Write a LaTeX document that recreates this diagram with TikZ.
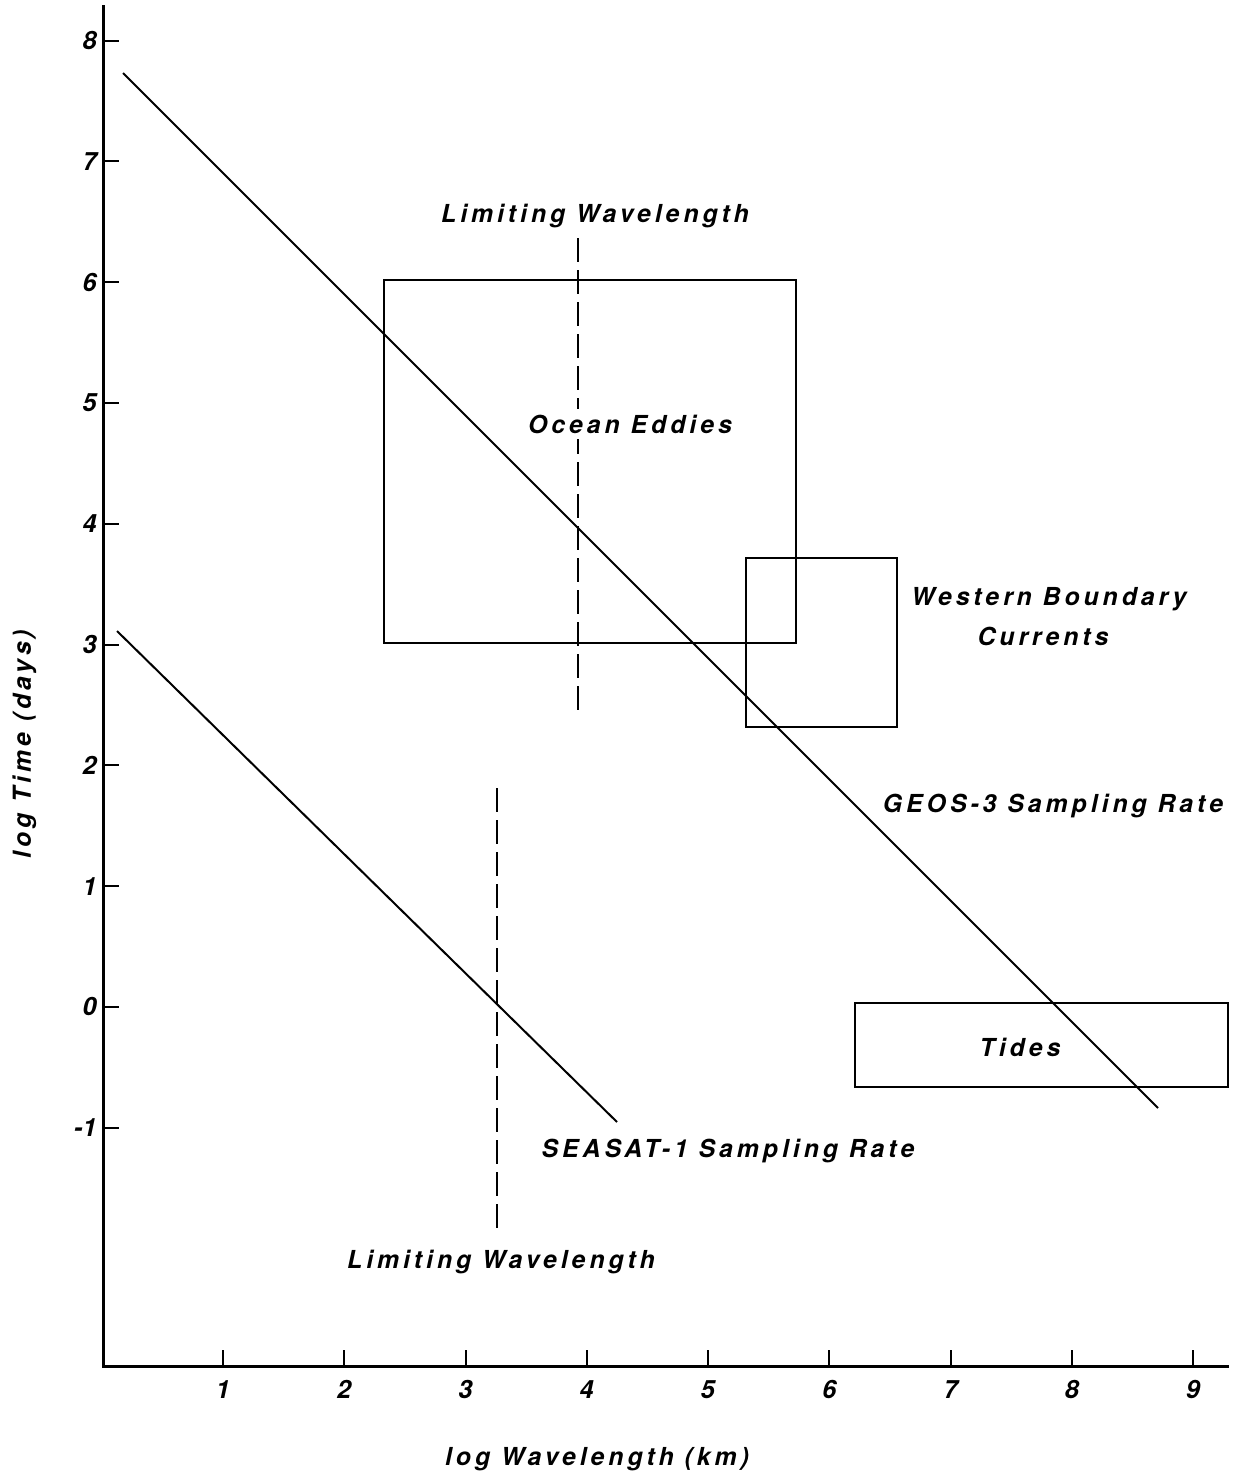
\documentclass[tikz,border=0pt]{standalone}
\usepackage{fontspec}
\setmainfont{TeX Gyre Heros}
\newfontfamily\spacedfont[LetterSpace=16]{TeX Gyre Heros}
\newcommand\chartlbl{\spacedfont\bfseries\itshape\fontsize{12.4pt}{15pt}\selectfont}
\newcommand\chartnum{\bfseries\itshape\fontsize{12.6pt}{15pt}\selectfont}
\begin{document}
\begin{tikzpicture}[x=0.5pt,y=-0.5pt,
  lbl/.style={font=\chartlbl, inner sep=0pt, anchor=base},
  num/.style={font=\chartnum, inner sep=0pt},
  axisline/.style={line width=1.5pt},
  dataline/.style={line width=1pt},
  boxline/.style={line width=1.2pt},
  limitline/.style={line width=1pt, dash pattern=on 12pt off 4pt},
  tickline/.style={line width=1pt}]
\useasboundingbox (0,0) rectangle (1234,1474);

% axes
\coordinate (ytop) at (103,5);
\coordinate (orig) at (103,1366);
\coordinate (xend) at (1229,1366);
\draw[axisline] (ytop) -- (orig) -- (xend);

% y ticks and labels
\foreach \v/\t in {8/8,7/7,6/6,5/5,4/4,3/3,2/2,1/1,0/0,-1/-1}{
  \coordinate (yt\v) at (103,{1007-120.8*\v});
  \draw[tickline] (yt\v) -- ++(16,0);
  \node[num, anchor=base east] (ylbl\v) at ([yshift=-4.4pt]yt\v -| 97,0) {\t};
}
% x ticks and labels
\foreach \v in {1,...,9}{
  \coordinate (xt\v) at ({101.75+121.25*\v},1366);
  \draw[tickline] (xt\v) -- ++(0,-16);
  \node[num, anchor=base] (xlbl\v) at (xt\v |- 0,1398) {\v};
}

% boxes
\draw[boxline] (384,280) rectangle (796,643);
\draw[boxline] (746,558) rectangle (897,727);
\draw[boxline] (855,1003) rectangle (1228,1087);

% sampling rate lines
\coordinate (g1) at (123,73);
\coordinate (g2) at (1158,1108);
\draw[dataline] (g1) -- (g2);
\coordinate (s1) at (117,631);
\coordinate (s2) at (617,1122);
\draw[dataline] (s1) -- (s2);

% limiting wavelength lines
\coordinate (lt1) at (578,238);
\coordinate (lt2) at (578,712);
\draw[limitline] (lt1) -- (lt2);
\coordinate (lb1) at (497,788);
\coordinate (lb2) at (497,1232);
\draw[limitline] (lb1) -- (lb2);

% labels
\node[lbl] (limtop) at (595,222) {Limiting Wavelength};
\node[lbl, fill=white, inner sep=3pt] (eddies) at (630,433) {Ocean Eddies};
\node[lbl] (wbc1) at (1049,605) {Western Boundary};
\node[lbl] (wbc2) at (1043,645) {Currents};
\node[lbl] (geos) at (1053,812) {GEOS-3 Sampling Rate};
\node[lbl] (tides) at (1020,1056) {Tides};
\node[lbl] (seasat) at (728,1157) {SEASAT-1 Sampling Rate};
\node[lbl] (limbot) at (501,1268) {Limiting Wavelength};
\node[lbl] (xlab) at (597,1465) {log Wavelength (km)};
\node[lbl, rotate=90] (ylab) at (31,744) {log Time (days)};
\end{tikzpicture}
\end{document}
